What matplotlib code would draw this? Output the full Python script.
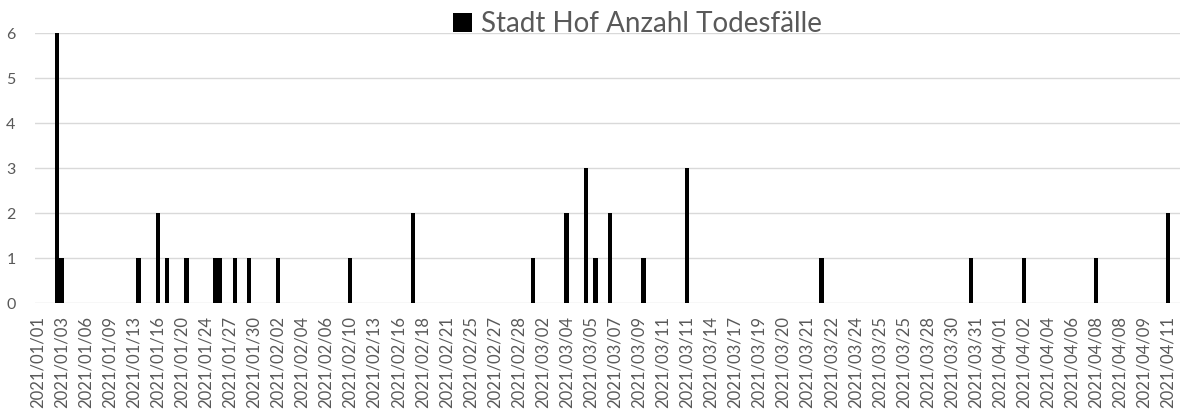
import matplotlib
matplotlib.use("Agg")
import matplotlib.pyplot as plt
import numpy as np

# ---- data ----
n_categories = 238  # one row per category on the (date) category axis
tick_labels = [
    "2021/01/01", "2021/01/03", "2021/01/06", "2021/01/09", "2021/01/13", "2021/01/16",
    "2021/01/20", "2021/01/24", "2021/01/27", "2021/01/30", "2021/02/02", "2021/02/04",
    "2021/02/06", "2021/02/10", "2021/02/13", "2021/02/16", "2021/02/18", "2021/02/21",
    "2021/02/25", "2021/02/27", "2021/02/28", "2021/03/02", "2021/03/04", "2021/03/05",
    "2021/03/07", "2021/03/09", "2021/03/11", "2021/03/11", "2021/03/14", "2021/03/17",
    "2021/03/19", "2021/03/20", "2021/03/21", "2021/03/22", "2021/03/24", "2021/03/25",
    "2021/03/25", "2021/03/28", "2021/03/30", "2021/03/31", "2021/04/01", "2021/04/02",
    "2021/04/04", "2021/04/06", "2021/04/08", "2021/04/08", "2021/04/09", "2021/04/11",
]
label_interval = 5
death_rows = [4, 5, 21, 25, 27, 31, 37, 38, 41, 44, 50, 65, 78, 103, 110, 114, 116,
              119, 126, 135, 163, 194, 205, 220, 235]
death_counts = [6, 1, 1, 2, 1, 1, 1, 1, 1, 1, 1, 1, 2, 1, 2, 3, 1,
                2, 1, 3, 1, 1, 1, 1, 2]
series_name = "Stadt Hof Anzahl Todesfälle"

# ---- plot ----
plt.rcParams['font.family'] = ['Lato', 'DejaVu Sans']
W, H = 1193, 415
fig = plt.figure(figsize=(W / 100, H / 100), dpi=100)
left, right = 35 / W, 1180 / W
bottom, top = 1 - 303.3 / H, 1 - 33.3 / H
ax = fig.add_axes([left, bottom, right - left, top - bottom])

values = np.zeros(n_categories)
values[death_rows] = death_counts
x = np.arange(n_categories)
bars = ax.bar(x, values, width=0.88, color="black", label=series_name, zorder=3)

ax.set_xlim(-0.5, n_categories - 0.5)
ax.set_ylim(0, 6)
ax.set_yticks(range(0, 7))
ax.grid(axis="y", color="#D9D9D9", linewidth=1.0, zorder=0)
ax.set_axisbelow(True)
for s in ["top", "right", "left", "bottom"]:
    ax.spines[s].set_visible(False)

tick_pos = np.arange(len(tick_labels)) * label_interval
ax.set_xticks(tick_pos)
ax.set_xticklabels(tick_labels, rotation=90, fontsize=12, color="#595959")
ax.tick_params(axis="x", length=0, pad=9)
ax.tick_params(axis="y", length=0, pad=14, labelsize=11.5, labelcolor="#595959")

leg = ax.legend(handles=[bars], loc="lower center", bbox_to_anchor=(0.526, 0.985),
                frameon=False, fontsize=20, handlelength=0.7, handleheight=0.7,
                handletextpad=0.3, borderaxespad=0, borderpad=0)
for t in leg.get_texts():
    t.set_color("#595959")

fig.savefig("out.png", dpi=100)
